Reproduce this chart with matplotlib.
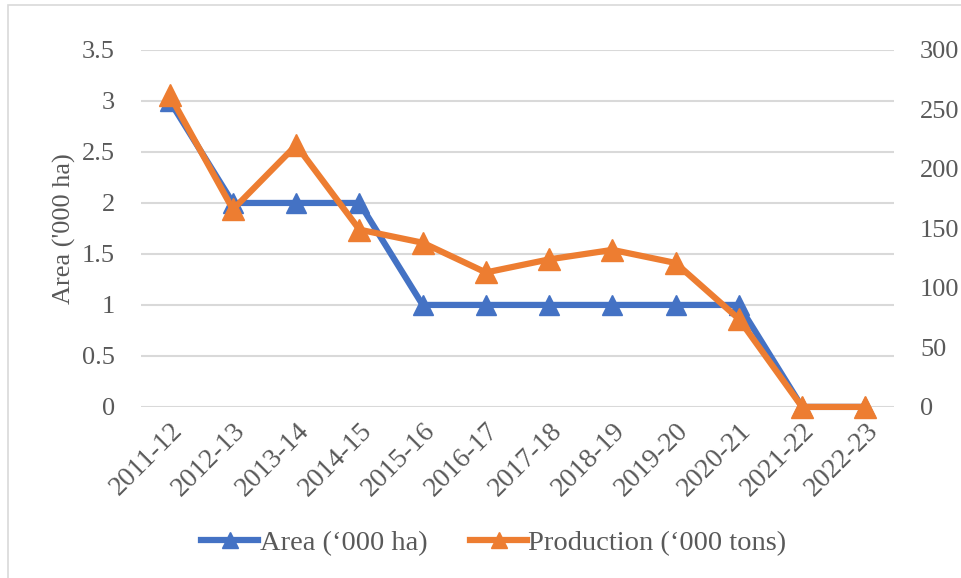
import matplotlib.pyplot as plt
from matplotlib.lines import Line2D
from matplotlib.patches import Rectangle

seasons = ["2011-12", "2012-13", "2013-14", "2014-15", "2015-16", "2016-17",
           "2017-18", "2018-19", "2019-20", "2020-21", "2021-22", "2022-23"]
area = [3, 2, 2, 2, 1, 1, 1, 1, 1, 1, 0, 0]
production = [262, 166, 220, 149, 138, 113, 124, 132, 121, 74, 0, 0]

BLUE = "#4472C4"
ORANGE = "#ED7D31"
GREY = "#595959"
FS = 19

plt.rcParams["font.family"] = ["Liberation Serif", "DejaVu Serif"]

fig = plt.figure(figsize=(9.61, 5.78), dpi=100)
ax = fig.add_axes([0.147, 0.296, 0.783, 0.6175])
ax2 = ax.twinx()

x = list(range(len(seasons)))
ax.plot(x, area, color=BLUE, lw=4.5, marker="^", ms=14, zorder=3,
        solid_joinstyle="miter", clip_on=False)
ax2.plot(x, production, color=ORANGE, lw=4.5, marker="^", ms=16, zorder=3,
         solid_joinstyle="miter", clip_on=False)

ax.set_xlim(-0.45, len(seasons) - 0.55)
ax.set_ylim(0, 3.5)
ax.set_yticks([0, 0.5, 1, 1.5, 2, 2.5, 3, 3.5])
ax.set_yticklabels(["0", "0.5", "1", "1.5", "2", "2.5", "3", "3.5"])
ax2.set_ylim(0, 300)
ax2.set_yticks(range(0, 301, 50))

ax.set_xticks(x)
ax.set_xticklabels(seasons, rotation=45, ha="right", rotation_mode="anchor",
                   fontsize=20)
ax.grid(axis="y", color="#D9D9D9", lw=1.5)
ax.set_axisbelow(True)
for a in (ax, ax2):
    for s in a.spines.values():
        s.set_visible(False)
    a.tick_params(length=0, labelsize=FS, colors=GREY)
ax.tick_params(axis="x", labelsize=20, pad=8)
ax.tick_params(axis="y", pad=19)
ax2.tick_params(axis="y", pad=19)
ax.set_ylabel("Area ('000 ha)", fontsize=FS, color=GREY, labelpad=4)

handles = [Line2D([], [], color=BLUE, lw=4.5, marker="^", ms=11),
           Line2D([], [], color=ORANGE, lw=4.5, marker="^", ms=11)]
fig.legend(handles, ["Area (‘000 ha)", "Production (‘000 tons)"],
           loc="center", bbox_to_anchor=(0.514, 0.06), ncol=2, frameon=False,
           fontsize=20.5, labelcolor=GREY, handlelength=2.0, handletextpad=0.05,
           columnspacing=1.5)

# chart outline
fig.patches.append(Rectangle((8 / 961, -0.1), 1.2, 1.1 - 5 / 578,
                             transform=fig.transFigure, fill=False,
                             edgecolor="#D9D9D9", lw=1.2))

fig.savefig("out.png", dpi=100)
